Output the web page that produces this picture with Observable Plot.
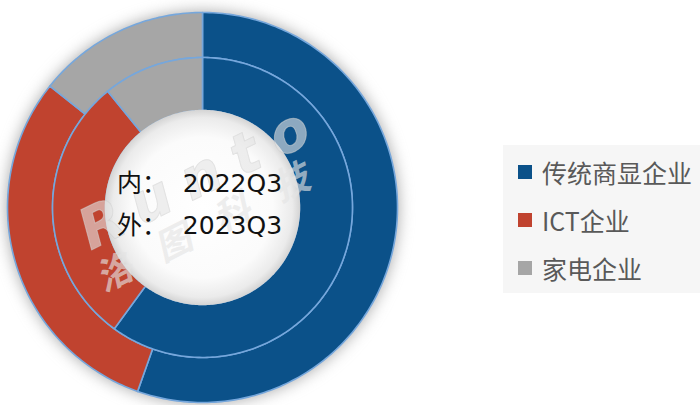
<!DOCTYPE html>
<html>
<head>
<meta charset="utf-8">
<script src="https://cdn.jsdelivr.net/npm/d3@7"></script>
<script src="https://cdn.jsdelivr.net/npm/@observablehq/plot@0.6"></script>
<style>
  html, body { margin: 0; padding: 0; background: #ffffff; }
  #wrap { position: relative; width: 700px; height: 405px; overflow: hidden; }
  #legend { position: absolute; left: 503px; top: 145px; width: 197px; height: 148px; background: #f6f6f6;
    font-family: "Noto Sans CJK SC", "Noto Sans", sans-serif; color: #595959; font-size: 25px; }
  .item { position: absolute; left: 15px; height: 30px; display: flex; align-items: center; white-space: nowrap; }
  .sw { width: 14px; height: 14px; margin-right: 10px; flex: none; }
</style>
</head>
<body>
<div id="wrap"><div id="legend"></div></div>
<script>
// ---- data ----
const categories = ["传统商显企业", "ICT企业", "家电企业"];
const inner2022 = [60.0, 29.1, 10.9];   // inner ring: 2022Q3 (%)
const outer2023 = [55.4, 30.3, 14.3];   // outer ring: 2023Q3 (%)
const colors = ["#0b5189", "#c0432f", "#a6a6a6"];
const centerLabels = ["内：  2022Q3", "外：  2023Q3"];
const watermark = ["Runto", "洛图科技"];

// ---- layout ----
const R_OUT = 1.0, R_MID = 0.769, R_HOLE = 0.497;
const pie = d3.pie().sort(null).startAngle(0).endAngle(2 * Math.PI);
const pt = (r, a) => ({x: r * Math.sin(a), y: r * Math.cos(a)});

function ringRows(values, r0, r1, ring) {
  const rows = [];
  pie(values).forEach((arc, i) => {
    const key = ring + i;
    const n = Math.max(2, Math.ceil((arc.endAngle - arc.startAngle) / (Math.PI / 180)));
    const pts = [];
    for (let k = 0; k <= n; k++) pts.push(pt(r1, arc.startAngle + (arc.endAngle - arc.startAngle) * k / n));
    for (let k = n; k >= 0; k--) pts.push(pt(r0, arc.startAngle + (arc.endAngle - arc.startAngle) * k / n));
    pts.push(pts[0]);
    pts.forEach(p => rows.push({...p, key, color: colors[i], cat: categories[i]}));
  });
  return rows;
}
function circleRows(r, key) {
  const rows = [];
  for (let k = 0; k <= 360; k++) rows.push({...pt(r, k * Math.PI / 180), key});
  return rows;
}

const rings = [...ringRows(outer2023, R_MID, R_OUT, "o"), ...ringRows(inner2022, R_HOLE, R_MID, "i")];

const chart = Plot.plot({
  width: 700,
  height: 405,
  margin: 0,
  x: {domain: [-1, 1], range: [7, 397], axis: null},
  y: {domain: [-1, 1], range: [402, 12], axis: null},
  color: {type: "identity"},
  style: {background: "transparent"},
  marks: [
    Plot.line(circleRows(1.0, "s"), {x: "x", y: "y", z: "key", fill: "#8f8f8f", fillOpacity: 0.85, stroke: "none"}),
    Plot.line(rings, {x: "x", y: "y", z: "key", fill: "color", stroke: "#76a7dc", strokeWidth: 1.6, strokeLinejoin: "round"}),
    Plot.line(circleRows(R_HOLE + 0.004, "h"), {x: "x", y: "y", z: "key", fill: "url(#holeGrad)", stroke: "none"}),
    Plot.text([watermark[0]], {x: -0.05, y: 0.14, dx: 9, dy: -4, text: d => d, rotate: -26, fontSize: 56, fontWeight: "bold", fontStyle: "italic",
      fontFamily: "DejaVu Sans", fill: "#e4e4e4", fillOpacity: 0.6, stroke: "#c8c8c8", strokeOpacity: 0.5, strokeWidth: 1}),
    Plot.text([watermark[1]], {x: 0.0, y: -0.11, dx: 14, dy: -7, text: d => d, rotate: -27, fontSize: 36, fontWeight: "bold", fontStyle: "italic",
      fontFamily: "Noto Sans CJK SC", fill: "#e4e4e4", fillOpacity: 0.65}),
    Plot.text([centerLabels.join("\n")], {x: 0, y: 0, dy: -8, dx: -3, text: d => d, fontSize: 25, lineHeight: 1.7,
      fontFamily: "DejaVu Sans, Noto Sans CJK SC", fill: "#111111"})
  ]
});

// gradient for the hole, blur for the shadow, spacing for the watermark
const ns = "http://www.w3.org/2000/svg";
const defs = document.createElementNS(ns, "defs");
defs.innerHTML = `<radialGradient id="holeGrad" cx="50%" cy="50%" r="50%">
  <stop offset="0%" stop-color="#ffffff"/>
  <stop offset="72%" stop-color="#fbfbfb"/>
  <stop offset="92%" stop-color="#ebebeb"/>
  <stop offset="100%" stop-color="#d4d4d4"/>
</radialGradient>`;
chart.insertBefore(defs, chart.firstChild);
const lineGroups = chart.querySelectorAll('g[aria-label="line"]');
if (lineGroups[0]) lineGroups[0].style.filter = "blur(8px)";
const textGroups = chart.querySelectorAll('g[aria-label="text"]');
if (textGroups[0]) textGroups[0].setAttribute("letter-spacing", "16");
if (textGroups[1]) textGroups[1].setAttribute("letter-spacing", "30");

document.getElementById("wrap").insertBefore(chart, document.getElementById("legend"));

// legend
const legend = document.getElementById("legend");
const rowTops = [12, 60, 108];
categories.forEach((c, i) => {
  const it = document.createElement("div");
  it.className = "item";
  it.style.top = rowTops[i] + "px";
  it.innerHTML = `<span class="sw" style="background:${colors[i]}"></span><span>${c}</span>`;
  legend.appendChild(it);
});
</script>
</body>
</html>
